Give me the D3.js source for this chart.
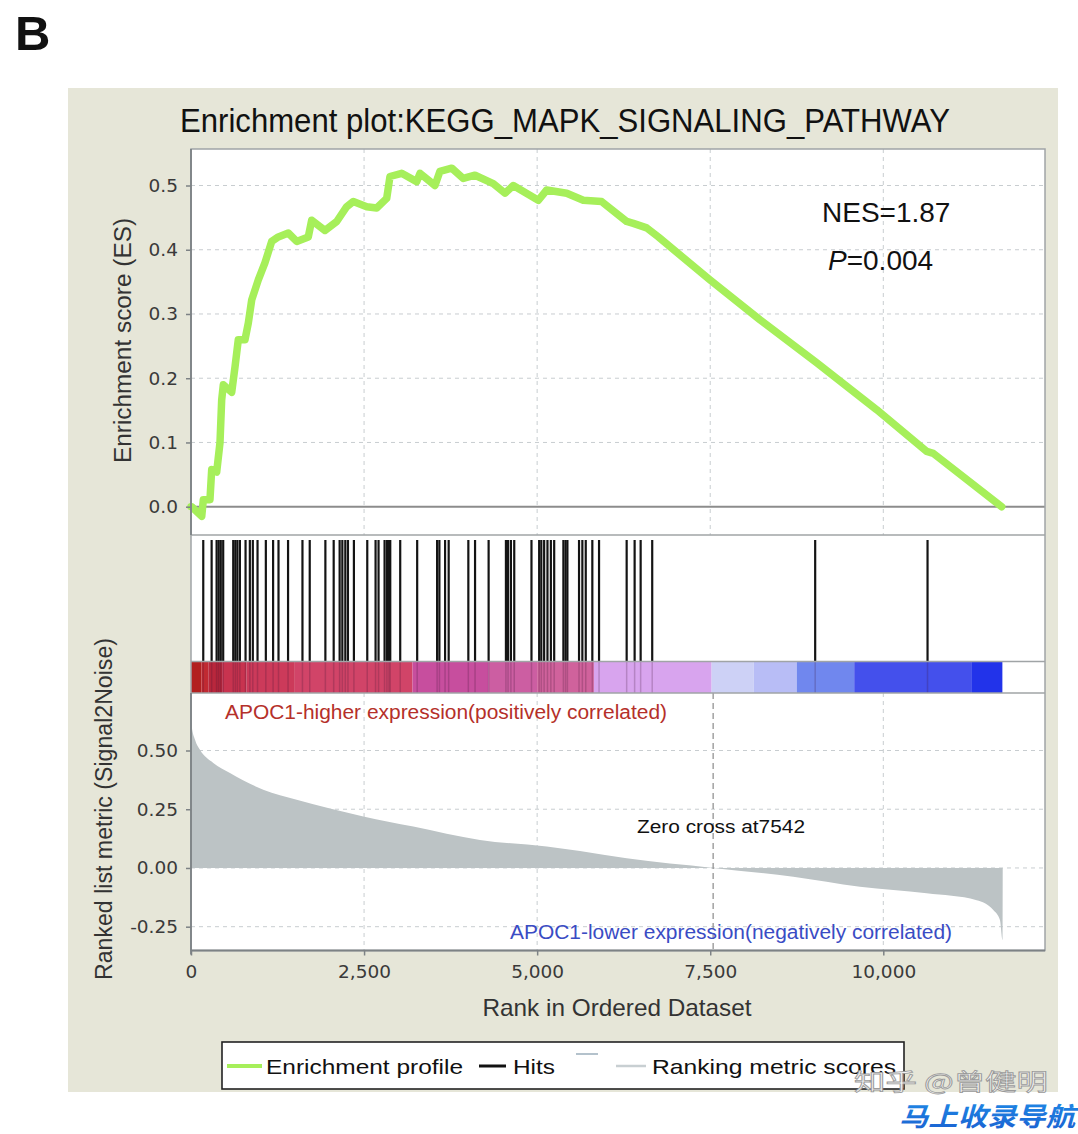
<!DOCTYPE html>
<html><head><meta charset="utf-8">
<script src="https://cdn.jsdelivr.net/npm/d3@7"></script>
<style>body{margin:0;background:#fff;}svg{display:block;}</style>
</head><body>
<svg id="chart" width="1078" height="1134"></svg>
<script>
// ---------- DATA ----------
const esRank  = [0,10,155,178,274,299,371,419,443,467,588,636,683,780,828,877,972,1069,1166,1261,1405,1527,1694,1743,1935,2105,2249,2344,2538,2682,2827,2874,3043,3260,3308,3524,3596,3766,3933,4102,4366,4535,4655,5016,5138,5427,5666,5932,6293,6389,6582,6750,7496,8218,9038,9904,10626,10722,11710];
const esValue = [0,0,-0.015,0.011,0.011,0.058,0.054,0.10,0.166,0.19,0.178,0.218,0.26,0.26,0.286,0.322,0.353,0.38,0.413,0.42,0.426,0.413,0.42,0.446,0.43,0.444,0.467,0.475,0.467,0.465,0.48,0.514,0.519,0.506,0.519,0.50,0.522,0.527,0.511,0.516,0.503,0.488,0.50,0.477,0.493,0.488,0.477,0.475,0.444,0.441,0.434,0.42,0.353,0.291,0.224,0.151,0.086,0.083,0.0];

const hitRanks = [177,298,370,400,430,465,610,640,670,706,788,850,893,961,1081,1186,1264,1402,1610,1715,1941,2061,2147,2186,2229,2267,2353,2546,2666,2709,2796,2830,2860,2878,3022,3267,3555,3588,3670,3722,4006,4103,4299,4549,4580,4621,4669,4918,5029,5060,5101,5149,5198,5246,5379,5410,5437,5605,5653,5702,5797,5894,6293,6408,6495,6662,9016,10639];

const metricRank  = [0,10,58,130,322,563,1044,1527,2489,3211,4174,5138,5619,6293,7542,8700,9663,10626,11349,11589,11685,11724,11725];
const metricValue = [0.64,0.603,0.546,0.503,0.447,0.404,0.333,0.29,0.219,0.176,0.119,0.091,0.072,0.041,0.0,-0.037,-0.08,-0.108,-0.137,-0.179,-0.222,-0.307,0];

const cbStart = [0,150,250,450,800,1500,3200,4300,5000,5820,7520,8130,8750,9580,11270];
const cbEnd   = [150,250,450,800,1500,3200,4300,5000,5820,7520,8130,8750,9580,11270,11720];
const cbColor = ["#b22020","#c02a32","#b9273c","#c8334f","#cc3a5a","#d14468","#c74e9e","#cc5ea2","#d0629c","#d8a4ee","#cdd1f6","#b8bdf6","#7087ee","#4450ec","#2233ea"];

const esTicks = [0.0,0.1,0.2,0.3,0.4,0.5];
const metricTicks = [-0.25,0.0,0.25,0.5];
const xTicks = [0,2500,5000,7500,10000];
const zeroCross = 7542;

// ---------- LAYOUT ----------
const svg = d3.select("#chart");
const L = 191, R = 1045;
const esTop = 149, esBot = 535, hitsBot = 661.5, cbBot = 693, metBot = 950.5;

const x = d3.scaleLinear().domain([0,10000]).range([L, 883.3]);
const yES = d3.scaleLinear().domain([0,0.5]).range([506.7,185.5]);
const yM = d3.scaleLinear().domain([-0.25,0.5]).range([926.7,750.5]);

// background
svg.append("rect").attr("x",68).attr("y",88).attr("width",990).attr("height",1004).attr("fill","#e6e6d8");
svg.append("text").attr("x",15).attr("y",50).attr("font-family","Liberation Sans, Arial, sans-serif")
  .attr("font-weight","bold").attr("font-size",49).attr("fill","#111").text("B");

// panels white
svg.append("rect").attr("x",L).attr("y",esTop).attr("width",R-L).attr("height",metBot-esTop).attr("fill","#fff");

// title
svg.append("text").attr("x",180).attr("y",132).attr("font-family","Liberation Sans, Arial, sans-serif")
  .attr("font-size",33).attr("fill","#111").attr("textLength",770).attr("lengthAdjust","spacingAndGlyphs")
  .text("Enrichment plot:KEGG_MAPK_SIGNALING_PATHWAY");

const grid = svg.append("g").attr("stroke","#c8cdd0").attr("stroke-width",1).attr("stroke-dasharray","4,4");
esTicks.filter(d=>d>0).forEach(t=>grid.append("line").attr("x1",L).attr("x2",R).attr("y1",yES(t)).attr("y2",yES(t)));
xTicks.filter(d=>d>0).forEach(t=>grid.append("line").attr("x1",x(t)).attr("x2",x(t)).attr("y1",esTop).attr("y2",esBot));
metricTicks.forEach(t=>grid.append("line").attr("x1",L).attr("x2",R).attr("y1",yM(t)).attr("y2",yM(t)));
xTicks.filter(d=>d>0 && d!==7500).forEach(t=>grid.append("line").attr("x1",x(t)).attr("x2",x(t)).attr("y1",cbBot).attr("y2",metBot));

// ES zero line
svg.append("line").attr("x1",L).attr("x2",R).attr("y1",yES(0)).attr("y2",yES(0)).attr("stroke","#8c8c8c").attr("stroke-width",2);

// ES curve
svg.append("path").datum(esRank.map((r,i)=>[r,esValue[i]]))
  .attr("d",d3.line().x(d=>x(d[0])).y(d=>yES(d[1])))
  .attr("fill","none").attr("stroke","#a6ef5a").attr("stroke-width",7.5).attr("stroke-linejoin","round").attr("stroke-linecap","round");

// NES / P
svg.append("text").attr("x",822).attr("y",222).attr("font-family","Liberation Sans, Arial, sans-serif")
  .attr("font-size",28).attr("fill","#111").text("NES=1.87");
const pt = svg.append("text").attr("x",828).attr("y",270).attr("font-family","Liberation Sans, Arial, sans-serif")
  .attr("font-size",28).attr("fill","#111");
pt.append("tspan").attr("font-style","italic").text("P");
pt.append("tspan").text("=0.004");

// color bar
svg.append("g").selectAll("rect").data(cbStart).join("rect")
  .attr("x",(d)=>x(d)).attr("width",(d,i)=>x(cbEnd[i])-x(d)).attr("y",hitsBot).attr("height",cbBot-hitsBot)
  .attr("fill",(d,i)=>cbColor[i]);

// hits
svg.append("g").selectAll("line").data(hitRanks).join("line")
  .attr("x1",d=>x(d)).attr("x2",d=>x(d)).attr("y1",540).attr("y2",hitsBot)
  .attr("stroke","#141414").attr("stroke-width",2.2);
svg.append("g").selectAll("line").data(hitRanks).join("line")
  .attr("x1",d=>x(d)).attr("x2",d=>x(d)).attr("y1",hitsBot).attr("y2",cbBot)
  .attr("stroke","#3a1030").attr("stroke-opacity",0.22).attr("stroke-width",1.5);

// metric area
svg.append("path").datum(metricRank.map((r,i)=>[r,metricValue[i]]))
  .attr("d",d3.area().x(d=>x(d[0])).y0(yM(0)).y1(d=>yM(d[1])).curve(d3.curveMonotoneX))
  .attr("fill","#bcc3c5");

// zero cross line
svg.append("line").attr("x1",x(zeroCross)).attr("x2",x(zeroCross)).attr("y1",cbBot).attr("y2",metBot)
  .attr("stroke","#8a8a8a").attr("stroke-width",1.2).attr("stroke-dasharray","6,4");

// panel borders
const bord = svg.append("g").attr("stroke","#a0a4a6").attr("fill","none").attr("stroke-width",1.5);
bord.append("rect").attr("x",L).attr("y",esTop).attr("width",R-L).attr("height",metBot-esTop);
[esBot,hitsBot,cbBot].forEach(yv=>bord.append("line").attr("x1",L).attr("x2",R).attr("y1",yv).attr("y2",yv));
svg.append("line").attr("x1",L).attr("x2",L).attr("y1",esTop).attr("y2",esBot).attr("stroke","#7d8285").attr("stroke-width",1.8);
svg.append("line").attr("x1",L).attr("x2",L).attr("y1",cbBot).attr("y2",metBot+4).attr("stroke","#7d8285").attr("stroke-width",1.8);
svg.append("line").attr("x1",L).attr("x2",R).attr("y1",metBot).attr("y2",metBot).attr("stroke","#7d8285").attr("stroke-width",1.8);

// axes
const tickFont = "DejaVu Sans, Verdana, sans-serif";
const axES = svg.append("g").attr("transform",`translate(${L},0)`)
  .call(d3.axisLeft(yES).tickValues(esTicks).tickFormat(d=>d.toFixed(1)).tickSize(5).tickPadding(8));
const axM = svg.append("g").attr("transform",`translate(${L},0)`)
  .call(d3.axisLeft(yM).tickValues(metricTicks).tickFormat(d=>d.toFixed(2)).tickSize(5).tickPadding(8));
const axX = svg.append("g").attr("transform",`translate(0,${metBot})`)
  .call(d3.axisBottom(x).tickValues(xTicks).tickFormat(d3.format(",")).tickSize(5).tickPadding(9));
[axES,axM,axX].forEach(a=>{
  a.select(".domain").remove();
  a.selectAll(".tick line").attr("stroke","#7d8285").attr("stroke-width",1.5);
  a.selectAll(".tick text").attr("font-family",tickFont).attr("font-size",18.5).attr("fill","#3a3a3a");
});

// axis titles
const lab = "Liberation Sans, Arial, sans-serif";
svg.append("text").attr("transform","translate(131,340.5) rotate(-90)").attr("text-anchor","middle")
  .attr("font-family",lab).attr("font-size",23).attr("fill","#333")
  .attr("textLength",245).attr("lengthAdjust","spacingAndGlyphs").text("Enrichment score (ES)");
svg.append("text").attr("transform","translate(112,809) rotate(-90)").attr("text-anchor","middle")
  .attr("font-family",lab).attr("font-size",23).attr("fill","#333")
  .attr("textLength",342).attr("lengthAdjust","spacingAndGlyphs").text("Ranked list metric (Signal2Noise)");
svg.append("text").attr("x",617).attr("y",1016).attr("text-anchor","middle")
  .attr("font-family",lab).attr("font-size",24).attr("fill","#333")
  .attr("textLength",269).attr("lengthAdjust","spacingAndGlyphs").text("Rank in Ordered Dataset");

// annotations
svg.append("text").attr("x",225).attr("y",719).attr("font-family",lab).attr("font-size",19.5)
  .attr("fill","#b5302a").attr("textLength",442).attr("lengthAdjust","spacingAndGlyphs")
  .text("APOC1-higher expression(positively correlated)");
svg.append("text").attr("x",510).attr("y",939).attr("font-family",lab).attr("font-size",19.5)
  .attr("fill","#3a4cc4").attr("textLength",442).attr("lengthAdjust","spacingAndGlyphs")
  .text("APOC1-lower expression(negatively correlated)");
svg.append("text").attr("x",637).attr("y",833).attr("font-family",lab).attr("font-size",17.5)
  .attr("fill","#111").attr("textLength",168).attr("lengthAdjust","spacingAndGlyphs")
  .text("Zero cross at7542");

// legend
const lg = svg.append("g");
lg.append("rect").attr("x",222).attr("y",1042).attr("width",682).attr("height",47).attr("fill","#fff")
  .attr("stroke","#222").attr("stroke-width",1.6);
lg.append("line").attr("x1",227).attr("x2",262).attr("y1",1066).attr("y2",1066).attr("stroke","#a6ef5a").attr("stroke-width",4);
lg.append("text").attr("x",266).attr("y",1074).attr("font-family",lab).attr("font-size",21).attr("fill","#111")
  .attr("textLength",197).attr("lengthAdjust","spacingAndGlyphs").text("Enrichment profile");
lg.append("line").attr("x1",479).attr("x2",506).attr("y1",1066).attr("y2",1066).attr("stroke","#111").attr("stroke-width",3);
lg.append("text").attr("x",513).attr("y",1074).attr("font-family",lab).attr("font-size",21).attr("fill","#111")
  .attr("textLength",42).attr("lengthAdjust","spacingAndGlyphs").text("Hits");
lg.append("line").attr("x1",576).attr("x2",598).attr("y1",1054).attr("y2",1054).attr("stroke","#b4c2cc").attr("stroke-width",2);
lg.append("line").attr("x1",616).attr("x2",646).attr("y1",1066).attr("y2",1066).attr("stroke","#c8cfd2").attr("stroke-width",2.5);
lg.append("text").attr("x",652).attr("y",1074).attr("font-family",lab).attr("font-size",21).attr("fill","#111")
  .attr("textLength",244).attr("lengthAdjust","spacingAndGlyphs").text("Ranking metric scores");

// watermark
svg.append("text").attr("x",854).attr("y",1090).attr("font-family","Noto Sans CJK SC, sans-serif")
  .attr("font-size",23).attr("fill","#f4f4f4").attr("stroke","#9a9a9a").attr("stroke-width",0.8)
  .attr("textLength",194).attr("lengthAdjust","spacingAndGlyphs")
  .text("知乎 @曾健明");
const grad = svg.append("defs").append("linearGradient").attr("id","wm").attr("x1","0").attr("x2","0").attr("y1","0").attr("y2","1");
grad.append("stop").attr("offset","0").attr("stop-color","#1f8ee8");
grad.append("stop").attr("offset","1").attr("stop-color","#1a5fd0");
svg.append("text").attr("x",899).attr("y",1126).attr("font-family","Noto Sans CJK SC, sans-serif")
  .attr("font-weight","bold").attr("font-size",26).attr("fill","url(#wm)").attr("font-style","italic")
  .attr("textLength",176).attr("lengthAdjust","spacingAndGlyphs")
  .text("马上收录导航");
</script>
</body></html>
